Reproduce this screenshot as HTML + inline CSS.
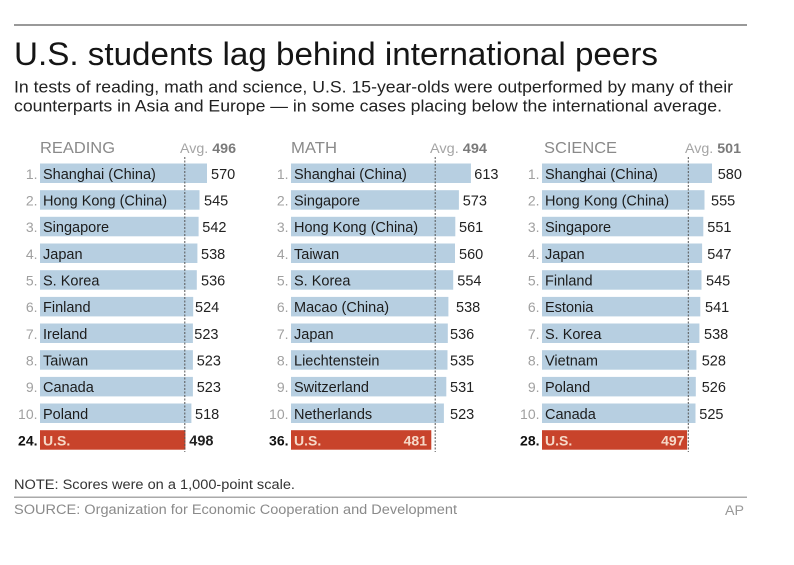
<!DOCTYPE html>
<html><head><meta charset="utf-8"><style>
html,body{margin:0;padding:0;background:#fff;}
svg{display:block;font-family:"Liberation Sans",Arial,sans-serif;}
</style></head><body>
<svg width="794" height="565" viewBox="0 0 794 565" xmlns="http://www.w3.org/2000/svg">
<rect width="794" height="565" fill="#fff"/>
<line x1="14" y1="25" x2="747" y2="25" stroke="#999" stroke-width="2"/>
<text x="14" y="65" font-size="32" fill="#151515" textLength="644" lengthAdjust="spacingAndGlyphs">U.S. students lag behind international peers</text>
<text x="14" y="92.7" font-size="16.5" fill="#222" textLength="719" lengthAdjust="spacingAndGlyphs">In tests of reading, math and science, U.S. 15-year-olds were outperformed by many of their</text>
<text x="14" y="111.7" font-size="16.5" fill="#222" textLength="708" lengthAdjust="spacingAndGlyphs">counterparts in Asia and Europe — in some cases placing below the international average.</text>

<g font-size="16" fill="#8a8a8a">
<text x="40" y="153" textLength="75" lengthAdjust="spacingAndGlyphs">READING</text>
<text x="291" y="153" textLength="46" lengthAdjust="spacingAndGlyphs">MATH</text>
<text x="544" y="153" textLength="73" lengthAdjust="spacingAndGlyphs">SCIENCE</text>
</g>
<g font-size="14">
<text x="180" y="153" textLength="56" lengthAdjust="spacingAndGlyphs"><tspan fill="#a5a5a5">Avg. </tspan><tspan fill="#7a7a7a" font-weight="bold">496</tspan></text>
<text x="430" y="153" textLength="57" lengthAdjust="spacingAndGlyphs"><tspan fill="#a5a5a5">Avg. </tspan><tspan fill="#7a7a7a" font-weight="bold">494</tspan></text>
<text x="685" y="153" textLength="56" lengthAdjust="spacingAndGlyphs"><tspan fill="#a5a5a5">Avg. </tspan><tspan fill="#7a7a7a" font-weight="bold">501</tspan></text>
</g>

<!-- READING -->
<g fill="#b7cfe1">
<rect x="40" y="163.5" width="167.0" height="19.5"/>
<rect x="40" y="190.2" width="159.5" height="19.5"/>
<rect x="40" y="216.8" width="158.6" height="19.5"/>
<rect x="40" y="243.5" width="157.4" height="19.5"/>
<rect x="40" y="270.2" width="156.8" height="19.5"/>
<rect x="40" y="296.9" width="153.2" height="19.5"/>
<rect x="40" y="323.5" width="152.9" height="19.5"/>
<rect x="40" y="350.2" width="152.9" height="19.5"/>
<rect x="40" y="376.9" width="152.9" height="19.5"/>
<rect x="40" y="403.5" width="151.4" height="19.5"/>
</g>
<rect x="40" y="430.2" width="145.4" height="19.5" fill="#c8432b"/>
<!-- MATH -->
<g fill="#b7cfe1">
<rect x="291" y="163.5" width="179.9" height="19.5"/>
<rect x="291" y="190.2" width="167.9" height="19.5"/>
<rect x="291" y="216.8" width="164.3" height="19.5"/>
<rect x="291" y="243.5" width="164.0" height="19.5"/>
<rect x="291" y="270.2" width="162.2" height="19.5"/>
<rect x="291" y="296.9" width="157.4" height="19.5"/>
<rect x="291" y="323.5" width="156.8" height="19.5"/>
<rect x="291" y="350.2" width="156.5" height="19.5"/>
<rect x="291" y="376.9" width="155.3" height="19.5"/>
<rect x="291" y="403.5" width="152.9" height="19.5"/>
</g>
<rect x="291" y="430.2" width="140.3" height="19.5" fill="#c8432b"/>
<!-- SCIENCE -->
<g fill="#b7cfe1">
<rect x="542" y="163.5" width="170.0" height="19.5"/>
<rect x="542" y="190.2" width="162.5" height="19.5"/>
<rect x="542" y="216.8" width="161.3" height="19.5"/>
<rect x="542" y="243.5" width="160.1" height="19.5"/>
<rect x="542" y="270.2" width="159.5" height="19.5"/>
<rect x="542" y="296.9" width="158.3" height="19.5"/>
<rect x="542" y="323.5" width="157.4" height="19.5"/>
<rect x="542" y="350.2" width="154.4" height="19.5"/>
<rect x="542" y="376.9" width="153.8" height="19.5"/>
<rect x="542" y="403.5" width="153.5" height="19.5"/>
</g>
<rect x="542" y="430.2" width="145.1" height="19.5" fill="#c8432b"/>

<!-- avg lines -->
<g stroke="#555" stroke-width="1" stroke-dasharray="2,1.5">
<line x1="184.8" y1="157" x2="184.8" y2="452"/>
<line x1="435.2" y1="157" x2="435.2" y2="452"/>
<line x1="688.3" y1="157" x2="688.3" y2="452"/>
</g>

<!-- rank numbers -->
<g font-size="14" fill="#a0a0a0" text-anchor="end">
<text x="37.5" y="178.8">1.</text><text x="37.5" y="205.5">2.</text><text x="37.5" y="232.1">3.</text><text x="37.5" y="258.8">4.</text><text x="37.5" y="285.5">5.</text><text x="37.5" y="312.2">6.</text><text x="37.5" y="338.8">7.</text><text x="37.5" y="365.5">8.</text><text x="37.5" y="392.2">9.</text><text x="37.5" y="418.8">10.</text>
<text x="288.5" y="178.8">1.</text><text x="288.5" y="205.5">2.</text><text x="288.5" y="232.1">3.</text><text x="288.5" y="258.8">4.</text><text x="288.5" y="285.5">5.</text><text x="288.5" y="312.2">6.</text><text x="288.5" y="338.8">7.</text><text x="288.5" y="365.5">8.</text><text x="288.5" y="392.2">9.</text><text x="288.5" y="418.8">10.</text>
<text x="539.5" y="178.8">1.</text><text x="539.5" y="205.5">2.</text><text x="539.5" y="232.1">3.</text><text x="539.5" y="258.8">4.</text><text x="539.5" y="285.5">5.</text><text x="539.5" y="312.2">6.</text><text x="539.5" y="338.8">7.</text><text x="539.5" y="365.5">8.</text><text x="539.5" y="392.2">9.</text><text x="539.5" y="418.8">10.</text>
</g>
<g font-size="14" fill="#111" font-weight="bold" text-anchor="end">
<text x="37.5" y="445.5">24.</text>
<text x="288.5" y="445.5">36.</text>
<text x="539.5" y="445.5">28.</text>
</g>

<!-- country names -->
<g font-size="14.5" fill="#1c1c1c">
<text x="43" y="178.8">Shanghai (China)</text><text x="43" y="205.5">Hong Kong (China)</text><text x="43" y="232.1">Singapore</text><text x="43" y="258.8">Japan</text><text x="43" y="285.5">S. Korea</text><text x="43" y="312.2">Finland</text><text x="43" y="338.8">Ireland</text><text x="43" y="365.5">Taiwan</text><text x="43" y="392.2">Canada</text><text x="43" y="418.8">Poland</text>
<text x="294" y="178.8">Shanghai (China)</text><text x="294" y="205.5">Singapore</text><text x="294" y="232.1">Hong Kong (China)</text><text x="294" y="258.8">Taiwan</text><text x="294" y="285.5">S. Korea</text><text x="294" y="312.2">Macao (China)</text><text x="294" y="338.8">Japan</text><text x="294" y="365.5">Liechtenstein</text><text x="294" y="392.2">Switzerland</text><text x="294" y="418.8">Netherlands</text>
<text x="545" y="178.8">Shanghai (China)</text><text x="545" y="205.5">Hong Kong (China)</text><text x="545" y="232.1">Singapore</text><text x="545" y="258.8">Japan</text><text x="545" y="285.5">Finland</text><text x="545" y="312.2">Estonia</text><text x="545" y="338.8">S. Korea</text><text x="545" y="365.5">Vietnam</text><text x="545" y="392.2">Poland</text><text x="545" y="418.8">Canada</text>
</g>
<g font-size="14" fill="#f6d9c8" font-weight="bold">
<text x="43" y="445.5">U.S.</text>
<text x="294" y="445.5">U.S.</text>
<text x="545" y="445.5">U.S.</text>
<text x="427" y="445.5" text-anchor="end">481</text>
<text x="684.5" y="445.5" text-anchor="end">497</text>
</g>

<!-- values -->
<g font-size="14.5" fill="#222">
<text x="211" y="178.8">570</text><text x="204" y="205.5">545</text><text x="202.3" y="232.1">542</text><text x="201" y="258.8">538</text><text x="201" y="285.5">536</text><text x="195" y="312.2">524</text><text x="194.3" y="338.8">523</text><text x="196.7" y="365.5">523</text><text x="196.7" y="392.2">523</text><text x="195" y="418.8">518</text>
<text x="189.3" y="445.5" font-weight="bold" fill="#222">498</text>
<text x="474.3" y="178.8">613</text><text x="462.7" y="205.5">573</text><text x="459" y="232.1">561</text><text x="459" y="258.8">560</text><text x="457.3" y="285.5">554</text><text x="456" y="312.2">538</text><text x="450" y="338.8">536</text><text x="450" y="365.5">535</text><text x="450" y="392.2">531</text><text x="450" y="418.8">523</text>
<text x="717.7" y="178.8">580</text><text x="711" y="205.5">555</text><text x="707.3" y="232.1">551</text><text x="707.3" y="258.8">547</text><text x="706" y="285.5">545</text><text x="705" y="312.2">541</text><text x="704" y="338.8">538</text><text x="701.7" y="365.5">528</text><text x="701.7" y="392.2">526</text><text x="699.3" y="418.8">525</text>
</g>

<!-- footer -->
<text x="14" y="489" font-size="13.5" fill="#333" textLength="281" lengthAdjust="spacingAndGlyphs">NOTE: Scores were on a 1,000-point scale.</text>
<line x1="14" y1="497.3" x2="747" y2="497.3" stroke="#aaa" stroke-width="1.5"/>
<text x="14" y="514" font-size="13.5" fill="#8a8a8a" textLength="443" lengthAdjust="spacingAndGlyphs">SOURCE: Organization for Economic Cooperation and Development</text>
<text x="725" y="515" font-size="13.5" fill="#999" textLength="19" lengthAdjust="spacingAndGlyphs">AP</text>
</svg>
</body></html>
